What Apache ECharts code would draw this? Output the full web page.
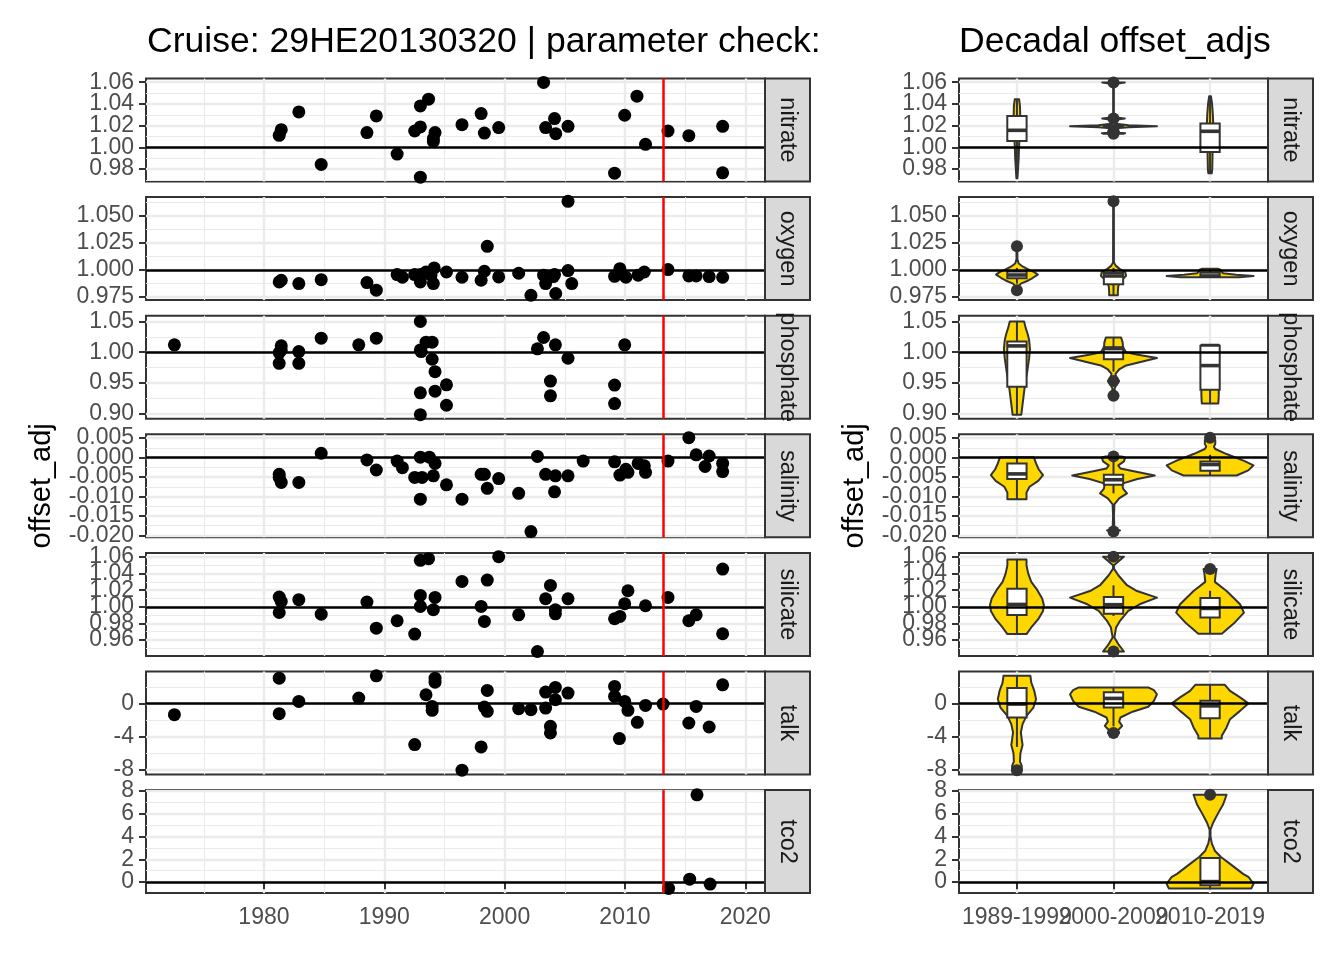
<!DOCTYPE html>
<html>
<head>
<meta charset="utf-8">
<script src="https://cdn.jsdelivr.net/npm/echarts@6/dist/echarts.min.js"></script>
<style>
  html, body { margin: 0; background: #fff; }
  #chart { width: 1344px; height: 960px; }
</style>
</head>
<body>
<div id="chart"></div>
<script>
// ---- data ----
const params = ['nitrate', 'oxygen', 'phosphate', 'salinity', 'silicate', 'talk', 'tco2']
const decades = ['1989-1999', '2000-2009', '2010-2019']
const cruiseDate = 2013.214
const yearBreaks = [1980, 1990, 2000, 2010, 2020]
const yearMinorBreaks = [1975, 1985, 1995, 2005, 2015]
const yearLimits = [1970.2, 2021.64]
const refValues = [1, 1, 1, 0, 1, 0, 0]
const yLimits = [[0.9686, 1.0634], [0.972, 1.0676], [0.892, 1.0594], [-0.02048, 0.00597], [0.9407, 1.065], [-8.56, 3.84], [-0.96, 8.06]]
const yBreaks = [
  [0.98, 1.00, 1.02, 1.04, 1.06],
  [0.975, 1.000, 1.025, 1.050],
  [0.90, 0.95, 1.00, 1.05],
  [-0.020, -0.015, -0.010, -0.005, 0.000, 0.005],
  [0.96, 0.98, 1.00, 1.02, 1.04, 1.06],
  [-8, -4, 0],
  [0, 2, 4, 6, 8]
]
const yMinorBreaks = [
  [0.97, 0.99, 1.01, 1.03, 1.05],
  [0.9875, 1.0125, 1.0375, 1.0625],
  [0.925, 0.975, 1.025],
  [-0.0175, -0.0125, -0.0075, -0.0025, 0.0025],
  [0.95, 0.97, 0.99, 1.01, 1.03, 1.05],
  [-6, -2, 2],
  [1, 3, 5, 7]
]
const yDecimals = [2, 3, 2, 3, 2, 0, 0]

// offsets per crossover cruise: [year, offset_adj]
const nitratePoints = [[1981.27,1.0111],[1981.44,1.0163],[1982.90,1.0326],[1984.76,0.9843],[1988.56,1.0136],[1989.34,1.0290],[1991.07,0.9938],[1992.53,1.0151],[1993.0,1.0188],[1993.0,1.0382],[1993.68,1.0444],[1993.0,0.9726],[1994.22,1.0136],[1994.08,1.0080],[1994.08,1.0055],[1996.46,1.0209],[1998.05,1.0311],[1998.32,1.0132],[1999.51,1.0182],[2003.24,1.0598],[2003.41,1.0182],[2004.15,1.0265],[2004.25,1.0126],[2005.27,1.0194],[2009.14,0.9763],[2009.98,1.0296],[2011.0,1.0471],[2011.71,1.0028],[2013.58,1.0151],[2015.31,1.0108],[2018.12,1.0194],[2018.12,0.9766]]
const oxygenPoints = [[1981.27,0.9889],[1981.44,0.9904],[1982.90,0.9873],[1984.76,0.9910],[1988.56,0.9883],[1989.34,0.9812],[1991.07,0.9957],[1991.51,0.9932],[1992.53,0.9957],[1993.0,0.9889],[1993.0,0.9957],[1993.47,0.9981],[1993.88,0.9951],[1994.15,1.0019],[1994.08,0.9873],[1995.17,0.9981],[1996.46,0.9932],[1998.05,0.9904],[1998.32,0.9988],[1998.56,1.0219],[1999.51,0.9935],[2001.17,0.9969],[2002.19,0.9765],[2003.24,0.9951],[2003.41,0.9873],[2004.15,0.9957],[2004.05,0.9938],[2004.25,0.9781],[2005.27,1.0637],[2005.27,0.9994],[2005.58,0.9873],[2009.14,0.9941],[2009.58,1.0012],[2010.08,0.9932],[2011.1,0.9951],[2011.61,0.9981],[2013.58,1.0003],[2015.31,0.9944],[2015.92,0.9944],[2017.0,0.9938],[2018.12,0.9932]]
const phosphatePoints = [[1972.56,1.0120],[1981.44,1.0104],[1981.27,0.9995],[1981.27,0.9820],[1981.44,1.0038],[1982.90,1.0011],[1982.90,0.9820],[1984.76,1.0229],[1987.88,1.0120],[1989.34,1.0229],[1993.0,1.0501],[1993.0,1.0038],[1993.07,1.0011],[1993.47,1.0164],[1993.98,1.0164],[1993.98,0.9886],[1994.22,0.9684],[1993.0,0.9341],[1994.22,0.9368],[1995.17,0.9471],[1995.17,0.9139],[1993.0,0.8986],[2002.73,1.0055],[2003.24,1.0240],[2004.22,1.0120],[2005.27,0.9902],[2003.81,0.9531],[2003.81,0.9292],[2009.14,0.9466],[2009.14,0.9166],[2009.98,1.0120]]
const salinityPoints = [[1984.76,0.0011],[1981.27,-0.0043],[1981.44,-0.0064],[1981.27,-0.0051],[1982.90,-0.0064],[1988.56,-0.0006],[1989.34,-0.0032],[1991.07,-0.0009],[1991.51,-0.0026],[1993.0,0.0001],[1993.75,0.0001],[1994.22,-0.0015],[1992.53,-0.0051],[1993.14,-0.0051],[1994.08,-0.0047],[1995.17,-0.0070],[1993.0,-0.0107],[1996.46,-0.0107],[1998.05,-0.0043],[1998.32,-0.0043],[1998.56,-0.0079],[1999.51,-0.0054],[2001.17,-0.0092],[2002.19,-0.0190],[2002.73,0.0003],[2003.41,-0.0043],[2004.22,-0.0047],[2005.27,-0.0047],[2004.15,-0.0088],[2006.53,-0.0009],[2009.14,-0.0011],[2009.58,-0.0045],[2010.08,-0.0030],[2010.25,-0.0038],[2011.1,-0.0015],[2011.61,-0.0021],[2011.71,-0.0038],[2013.58,-0.0009],[2015.31,0.0051],[2015.92,0.0007],[2016.66,-0.0023],[2017.0,0.0004],[2018.12,-0.0015],[2018.12,-0.0036]]
const silicatePoints = [[1981.27,1.0117],[1981.44,1.0064],[1981.27,0.9931],[1982.90,1.0085],[1984.76,0.9911],[1988.56,1.0056],[1989.34,0.9742],[1991.07,0.9831],[1992.53,0.9670],[1993.0,1.0560],[1993.68,1.0580],[1993.0,1.0137],[1993.0,1.0004],[1994.22,1.0113],[1994.08,0.9964],[1996.46,1.0306],[1998.05,1.0004],[1998.32,0.9823],[1998.56,1.0322],[1999.51,1.0605],[2001.17,0.9903],[2002.73,0.9460],[2003.41,1.0097],[2003.81,1.0258],[2004.22,0.9964],[2004.22,0.9915],[2005.27,1.0097],[2009.14,0.9855],[2009.58,0.9883],[2009.98,1.0036],[2010.25,1.0193],[2011.71,1.0012],[2013.58,1.0113],[2015.31,0.9831],[2015.92,0.9903],[2018.12,1.0455],[2018.12,0.9674]]
const talkPoints = [[1972.56,-1.36],[1981.27,3.04],[1981.27,-1.24],[1982.90,0.24],[1987.88,0.64],[1989.34,3.32],[1992.53,-4.96],[1993.47,1.04],[1994.22,3.04],[1994.22,2.56],[1993.98,-0.36],[1993.98,-0.84],[1998.05,-5.24],[1998.56,1.56],[1998.32,-0.44],[1998.56,-0.96],[1996.46,-8.04],[2001.17,-0.64],[2002.19,-0.76],[2003.41,-0.56],[2003.41,1.36],[2004.22,1.92],[2005.27,1.24],[2004.22,0.44],[2003.81,-2.76],[2003.81,-3.56],[2009.14,2.04],[2009.14,0.84],[2009.98,0.24],[2010.25,-0.84],[2011.03,-2.28],[2011.71,-0.24],[2009.54,-4.24],[2013.17,-0.08],[2015.31,-2.36],[2015.92,-0.36],[2017.0,-2.84],[2018.12,2.24]]
const tco2Points = [[2013.63,-0.55],[2015.38,0.26],[2015.99,7.65],[2017.08,-0.17]]

// decadal boxes: [lower whisker, Q1, median, Q3, upper whisker] per decade
const nitrateBoxes = [[0.9717,1.0058,1.0157,1.0289,1.0443],[1.0186,1.0192,1.0196,1.0201,1.0205],[0.9763,0.9957,1.0148,1.0219,1.0471]]
const oxygenBoxes = [[0.9873,0.9922,0.9953,0.9985,1.0019],[0.9765,0.9868,0.9944,0.9972,1.0019],[0.9932,0.9939,0.9944,0.9974,1.0012]]
const phosphateBoxes = [[0.8986,0.9439,1.0103,1.0174,1.0501],[0.9684,0.9886,1.006,1.0082,1.024],[0.9166,0.9391,0.9783,1.0105,1.012]]
const salinityBoxes = [[-0.0107,-0.0055,-0.0042,-0.0015,0.0001],[-0.0092,-0.007,-0.0057,-0.0044,-0.0009],[-0.0045,-0.0034,-0.0018,-0.001,0.0007]]
const silicateBoxes = [[0.967,0.990,1.0028,1.0217,1.057],[0.9889,0.9917,1.0025,1.0119,1.0258],[0.9674,0.987,0.998,1.0107,1.0193]]
const talkBoxes = [[-5.24,-1.7,-0.08,1.86,3.32],[-2.76,-0.48,0.6,1.33,1.92],[-4.24,-1.78,-0.3,0.32,2.24]]
const tco2Boxes = [null, null, [-0.55,-0.265,0.045,2.11,2.11]]

// outliers: [decade number, value]
const nitrateOutliers = [[2,1.0598],[2,1.0265],[2,1.0148],[2,1.0126]]
const oxygenOutliers = [[1,1.0219],[1,0.9812],[2,1.0637]]
const phosphateOutliers = [[2,0.9531],[2,0.9292]]
const salinityOutliers = [[2,0.0003],[2,-0.019],[3,0.0051]]
const silicateOutliers = [[2,1.0605],[2,0.946],[3,1.0455]]
const talkOutliers = [[1,-8.04],[2,-3.56]]
const tco2Outliers = [[3,7.65]]

// violin density profiles: [value, density scaled to panel max]
const nitrateViolins = [
  [[0.9717,0.012],[0.98,0.025],[0.99,0.04],[1.0,0.048],[1.01,0.06],[1.02,0.075],[1.03,0.075],[1.038,0.07],[1.0443,0.05]],
  [[1.0126,0.24],[1.0131,0.27],[1.0138,0.05],[1.0148,0.12],[1.0158,0.03],[1.0175,0.06],[1.0186,0.35],[1.0195,1.0],[1.0204,0.35],[1.0218,0.05],[1.0235,0.01],[1.0255,0.05],[1.0265,0.26],[1.0275,0.05],[1.03,0.008],[1.056,0.008],[1.0588,0.1],[1.0598,0.26]],
  [[0.9763,0.04],[0.98,0.05],[0.99,0.055],[1.0,0.06],[1.01,0.066],[1.02,0.075],[1.03,0.065],[1.04,0.046],[1.0471,0.02]]
]
const oxygenViolins = [
  [[0.9812,0.02],[0.984,0.02],[0.9873,0.09],[0.990,0.25],[0.9925,0.36],[0.9957,0.48],[0.998,0.4],[1.0,0.28],[1.003,0.14],[1.006,0.04],[1.01,0.01],[1.02,0.01],[1.0219,0.02]],
  [[0.9765,0.1],[0.98,0.1],[0.985,0.11],[0.99,0.17],[0.9945,0.29],[0.998,0.27],[1.001,0.14],[1.004,0.05],[1.007,0.01],[1.06,0.008],[1.0637,0.01]],
  [[0.9932,0.67],[0.9944,1.0],[0.9955,0.6],[0.997,0.3],[0.9985,0.26],[1.0003,0.24],[1.0012,0.18]]
]
const phosphateViolins = [
  [[0.8986,0.1],[0.91,0.12],[0.93,0.155],[0.95,0.19],[0.97,0.24],[0.99,0.28],[1.005,0.3],[1.02,0.28],[1.03,0.245],[1.04,0.2],[1.0501,0.165]],
  [[0.9292,0.11],[0.932,0.07],[0.94,0.02],[0.948,0.07],[0.9531,0.13],[0.958,0.07],[0.965,0.045],[0.972,0.13],[0.978,0.27],[0.985,0.67],[0.9905,1.0],[0.996,0.56],[1.0,0.29],[1.008,0.22],[1.016,0.21],[1.024,0.175]],
  [[0.9166,0.19],[0.93,0.2],[0.945,0.2],[0.96,0.19],[0.98,0.18],[1.0,0.19],[1.012,0.2]]
]
const salinityViolins = [
  [[-0.0107,0.22],[-0.009,0.22],[-0.0075,0.29],[-0.006,0.49],[-0.0045,0.6],[-0.003,0.5],[-0.0015,0.44],[-0.0002,0.4],[0.0001,0.38]],
  [[-0.019,0.02],[-0.0187,0.15],[-0.0183,0.02],[-0.015,0.01],[-0.012,0.02],[-0.0105,0.13],[-0.0092,0.31],[-0.008,0.22],[-0.0067,0.2],[-0.0055,0.55],[-0.0046,0.95],[-0.0037,0.55],[-0.0028,0.16],[-0.002,0.11],[-0.001,0.24],[0.0,0.27],[0.0003,0.18]],
  [[-0.0046,0.61],[-0.0033,0.88],[-0.002,1.0],[-0.0008,0.77],[0.0009,0.38],[0.0022,0.12],[0.0028,0.09],[0.0035,0.12],[0.0045,0.12],[0.0051,0.05]]
]
const silicateViolins = [
  [[0.967,0.22],[0.975,0.33],[0.985,0.49],[0.995,0.6],[1.002,0.62],[1.01,0.58],[1.02,0.47],[1.03,0.33],[1.04,0.26],[1.05,0.22],[1.057,0.22]],
  [[0.946,0.24],[0.955,0.11],[0.963,0.02],[0.975,0.06],[0.983,0.15],[0.995,0.34],[1.003,0.6],[1.011,1.0],[1.019,0.54],[1.026,0.31],[1.038,0.11],[1.046,0.01],[1.05,0.01],[1.0605,0.24]],
  [[0.9674,0.27],[0.98,0.55],[0.993,0.78],[1.003,0.69],[1.019,0.38],[1.03,0.11],[1.04,0.13],[1.0455,0.15]]
]
const talkViolins = [
  [[-8.04,0.11],[-7.5,0.11],[-7.0,0.07],[-6.0,0.08],[-5.0,0.13],[-4.3,0.11],[-3.5,0.09],[-2.5,0.13],[-1.5,0.22],[-0.5,0.38],[0.5,0.44],[1.5,0.4],[2.5,0.33],[3.32,0.31]],
  [[-3.56,0.13],[-3.2,0.11],[-2.7,0.2],[-2.2,0.13],[-1.7,0.16],[-1.0,0.44],[-0.4,0.8],[0.3,0.93],[1.1,1.0],[1.6,0.93],[1.92,0.8]],
  [[-4.24,0.27],[-3.9,0.27],[-2.9,0.38],[-1.9,0.46],[-0.9,0.69],[0.0,0.88],[0.73,0.69],[1.5,0.46],[2.24,0.34]]
]
const tco2Violins = [null, null,
  [[-0.55,0.95],[-0.14,1.0],[0.43,0.89],[0.72,0.76],[1.6,0.46],[2.2,0.25],[2.75,0.11],[3.4,0.04],[4.0,0.01],[4.6,0.01],[5.2,0.07],[6.0,0.18],[6.8,0.3],[7.65,0.38]]
]

const pointsByParam = [nitratePoints, oxygenPoints, phosphatePoints, salinityPoints, silicatePoints, talkPoints, tco2Points]
const boxesByParam = [nitrateBoxes, oxygenBoxes, phosphateBoxes, salinityBoxes, silicateBoxes, talkBoxes, tco2Boxes]
const outliersByParam = [nitrateOutliers, oxygenOutliers, phosphateOutliers, salinityOutliers, silicateOutliers, talkOutliers, tco2Outliers]
const violinsByParam = [nitrateViolins, oxygenViolins, phosphateViolins, salinityViolins, silicateViolins, talkViolins, tco2Violins]

// ---- layout / style ----
const FONT = '"Liberation Sans", Arial, Helvetica, sans-serif'
const panelTop = 78.5, panelStep = 118.6, panelH = 103
const leftX = 146, leftW = 619, rightX = 959, rightW = 309, stripW = 45
const violinHalf = 0.45, boxHalf = 0.1
const dark = '#333333', gridCol = '#EBEBEB', tickText = '#4D4D4D'

var grids = [], xAxes = [], yAxes = [], series = [], graphics = []

const labelStyle = { color: tickText, fontSize: 23, fontFamily: FONT, showMinLabel: true, showMaxLabel: true, hideOverlap: false }
const evens = arr => arr.filter((v, k) => k % 2 === 0)
const odds = arr => arr.filter((v, k) => k % 2 === 1)

// echarts drops labels that touch each other, so every panel splits its
// labels over two stacked axes (even / odd breaks) on the same side
function addAxes(g, xLim, xMajor, xMinor, xFmt, showX, yi, discrete) {
  const xLab2 = discrete ? odds(xMajor) : []
  const xLab1 = discrete ? evens(xMajor) : xMajor
  xAxes.push({
    type: 'value', gridIndex: g, position: 'bottom', min: xLim[0], max: xLim[1],
    axisLine: { show: false },
    axisTick: { show: showX, customValues: xMajor, length: 7, lineStyle: { color: dark, width: 2 } },
    axisLabel: Object.assign({ show: showX, customValues: xLab1, formatter: xFmt, margin: 13 }, labelStyle),
    splitLine: { show: true, lineStyle: { color: gridCol, width: 2.4 } }
  })
  xAxes.push({
    type: 'value', gridIndex: g, position: discrete ? 'bottom' : 'top', min: xLim[0], max: xLim[1],
    axisLine: { show: false },
    axisTick: { show: false, customValues: xMinor.length ? xMinor : xMajor },
    axisLabel: Object.assign({ show: showX && xLab2.length > 0, customValues: xLab2.length ? xLab2 : xMajor, formatter: xFmt, margin: 13 }, labelStyle),
    splitLine: { show: xMinor.length > 0, lineStyle: { color: gridCol, width: 1.2 } }
  })
  const fmt = v => v.toFixed(yDecimals[yi])
  yAxes.push({
    type: 'value', gridIndex: g, position: 'left', min: yLimits[yi][0], max: yLimits[yi][1],
    axisLine: { show: false },
    axisTick: { show: true, customValues: yBreaks[yi], length: 7, lineStyle: { color: dark, width: 2 } },
    axisLabel: Object.assign({ show: true, customValues: evens(yBreaks[yi]), formatter: fmt, margin: 12 }, labelStyle),
    splitLine: { show: true, lineStyle: { color: gridCol, width: 2.4 } }
  })
  yAxes.push({
    type: 'value', gridIndex: g, position: 'left', offset: 0, min: yLimits[yi][0], max: yLimits[yi][1],
    axisLine: { show: false },
    axisTick: { show: false, customValues: yMinorBreaks[yi] },
    axisLabel: Object.assign({ show: true, customValues: odds(yBreaks[yi]), formatter: fmt, margin: 12 }, labelStyle),
    splitLine: { show: true, lineStyle: { color: gridCol, width: 1.2 } }
  })
}

function addStrip(x, top, label) {
  graphics.push({ type: 'rect', shape: { x: x, y: top, width: stripW, height: panelH }, style: { fill: '#D9D9D9', stroke: dark, lineWidth: 2 }, z: 10 })
  graphics.push({ type: 'text', x: x + stripW / 2, y: top + panelH / 2, rotation: -Math.PI / 2, z: 11,
    style: { text: label, fontSize: 23.5, fontFamily: FONT, fill: '#1A1A1A', textAlign: 'center', textVerticalAlign: 'middle', align: 'center', verticalAlign: 'middle' } })
}

function refLineSeries(axisIdx, lines) {
  return {
    type: 'scatter', xAxisIndex: axisIdx, yAxisIndex: axisIdx, data: [], z: 1, silent: true,
    markLine: { silent: true, symbol: ['none', 'none'], label: { show: false }, animation: false, data: lines }
  }
}

function renderViolin(profiles) {
  return function (params, api) {
    const xc = api.value(0)
    const prof = profiles[api.value(1)]
    const leftSide = prof.map(p => api.coord([xc - p[1] * violinHalf, p[0]]))
    const rightSide = prof.slice().reverse().map(p => api.coord([xc + p[1] * violinHalf, p[0]]))
    return { type: 'polygon', shape: { points: leftSide.concat(rightSide) },
      style: { fill: '#FFD700', stroke: dark, lineWidth: 2, lineJoin: 'round' } }
  }
}

function renderBox(params, api) {
  const x = api.value(0)
  const lo = api.coord([x, api.value(1)]), hi = api.coord([x, api.value(5)])
  const a = api.coord([x - boxHalf, api.value(4)]), b = api.coord([x + boxHalf, api.value(2)])
  const m1 = api.coord([x - boxHalf, api.value(3)]), m2 = api.coord([x + boxHalf, api.value(3)])
  const st = { stroke: dark, lineWidth: 2 }
  return { type: 'group', children: [
    { type: 'line', shape: { x1: hi[0], y1: hi[1], x2: hi[0], y2: a[1] }, style: st },
    { type: 'line', shape: { x1: lo[0], y1: lo[1], x2: lo[0], y2: b[1] }, style: st },
    { type: 'rect', shape: { x: a[0], y: a[1], width: b[0] - a[0], height: b[1] - a[1] }, style: { fill: '#FFFFFF', stroke: dark, lineWidth: 2 } },
    { type: 'line', shape: { x1: m1[0], y1: m1[1], x2: m2[0], y2: m2[1] }, style: { stroke: dark, lineWidth: 3.6 } }
  ] }
}

params.forEach((p, i) => {
  const top = panelTop + i * panelStep
  const last = i === params.length - 1
  const gl = grids.length
  // left: offsets over time
  grids.push({ left: leftX, top: top, width: leftW, height: panelH, show: true, borderColor: dark, borderWidth: 2, backgroundColor: '#fff' })
  addAxes(gl, yearLimits, yearBreaks, yearMinorBreaks, v => String(v), last, i, false)
  series.push(refLineSeries(2 * gl, [
    { yAxis: refValues[i], lineStyle: { color: '#000', width: 2.7, type: 'solid' } },
    { xAxis: cruiseDate, lineStyle: { color: '#FF0000', width: 2.5, type: 'solid' } }
  ]))
  series.push({ type: 'scatter', xAxisIndex: 2 * gl, yAxisIndex: 2 * gl, data: pointsByParam[i], symbolSize: 13,
    itemStyle: { color: '#000', opacity: 1 }, z: 2, silent: true })
  addStrip(leftX + leftW, top, p)

  // right: decadal violins
  const gr = grids.length
  grids.push({ left: rightX, top: top, width: rightW, height: panelH, show: true, borderColor: dark, borderWidth: 2, backgroundColor: '#fff' })
  addAxes(gr, [0.4, 3.6], [1, 2, 3], [], v => decades[Math.round(v) - 1], last, i, true)
  series.push(refLineSeries(2 * gr, [{ yAxis: refValues[i], lineStyle: { color: '#000', width: 2.7, type: 'solid' } }]))
  const vData = [], bData = []
  violinsByParam[i].forEach((prof, k) => { if (prof) vData.push([k + 1, k]) })
  boxesByParam[i].forEach((bx, k) => { if (bx) bData.push([k + 1].concat(bx)) })
  series.push({ type: 'custom', xAxisIndex: 2 * gr, yAxisIndex: 2 * gr, data: vData, renderItem: renderViolin(violinsByParam[i]), z: 2, silent: true })
  series.push({ type: 'custom', xAxisIndex: 2 * gr, yAxisIndex: 2 * gr, data: bData, renderItem: renderBox, z: 3, silent: true,
    encode: { x: 0, y: [1, 2, 3, 4, 5] } })
  series.push({ type: 'scatter', xAxisIndex: 2 * gr, yAxisIndex: 2 * gr, data: outliersByParam[i], symbolSize: 12,
    itemStyle: { color: dark, opacity: 1 }, z: 4, silent: true })
  addStrip(rightX + rightW, top, p)
})

// titles
const plotMid = panelTop + ((params.length - 1) * panelStep + panelH) / 2
graphics.push({ type: 'text', x: 147, y: 42, style: { text: 'Cruise: 29HE20130320 | parameter check:', fontSize: 35.6, fontFamily: FONT, fill: '#000', textVerticalAlign: 'middle', verticalAlign: 'middle' } })
graphics.push({ type: 'text', x: 959, y: 42, style: { text: 'Decadal offset_adjs', fontSize: 35.6, fontFamily: FONT, fill: '#000', textVerticalAlign: 'middle', verticalAlign: 'middle' } })
graphics.push({ type: 'text', x: 42, y: plotMid, rotation: Math.PI / 2, style: { text: 'offset_adj', fontSize: 29, fontFamily: FONT, fill: '#000', textAlign: 'center', textVerticalAlign: 'middle', align: 'center', verticalAlign: 'middle' } })
graphics.push({ type: 'text', x: 855, y: plotMid, rotation: Math.PI / 2, style: { text: 'offset_adj', fontSize: 29, fontFamily: FONT, fill: '#000', textAlign: 'center', textVerticalAlign: 'middle', align: 'center', verticalAlign: 'middle' } })

const chart = echarts.init(document.getElementById('chart'))
chart.setOption({
  animation: false,
  backgroundColor: '#fff',
  textStyle: { fontFamily: FONT },
  grid: grids,
  xAxis: xAxes,
  yAxis: yAxes,
  series: series,
  graphic: { elements: graphics }
})
</script>
</body>
</html>
